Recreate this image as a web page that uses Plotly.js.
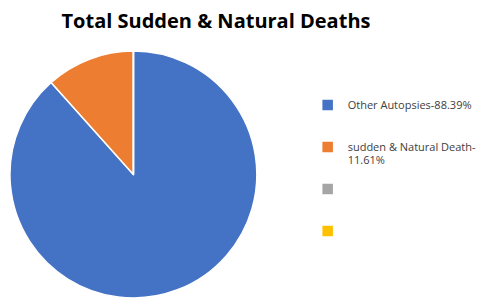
<!DOCTYPE html>
<html><head><meta charset="utf-8">
<script src="https://cdn.plot.ly/plotly-3.0.1.min.js"></script>
<style>html,body{margin:0;padding:0;background:#fff}#c{width:482px;height:299px}</style>
</head><body><div id="c"></div>
<script>
const labels = ["Other Autopsies-88.39%", "sudden & Natural Death-<br>11.61%", " ", "  "];
const values = [88.39, 11.61, 0, 0];
const colors = ["#4472C4", "#ED7D31", "#A5A5A5", "#FFC000"];
const titleText = "Total Sudden & Natural Deaths";

const W = 482, H = 299;
const PW = 446; // plot width after legend push
const pad = ["<br> <br> ", "<br> ", "<br> <br> ", ""];
const legLabels = labels.map((l, i) =>
  "<span style='font-size:11px'>" + l.split("<br>").join("</span><br><span style='font-size:11px'>") + "</span>" + pad[i]);
Plotly.newPlot("c", [{
  type: "pie",
  labels: legLabels,
  values: values,
  marker: {colors: colors, line: {color: "#fff", width: 1.5}},
  sort: false,
  direction: "clockwise",
  rotation: 0,
  textinfo: "none",
  hoverinfo: "none",
  domain: {x: [10/PW, 258/PW], y: [1 - 298/H, 1 - 51/H]}
}], {
  width: W, height: H,
  margin: {l: 0, r: 0, t: 0, b: 0},
  paper_bgcolor: "#fff",
  title: {text: "<b>" + titleText + "</b>", x: 216/W, xanchor: "center", y: 1 - 21/H, yanchor: "middle",
    font: {family: "Open Sans, sans-serif", size: 20, color: "#000"}},
  showlegend: true,
  legend: {x: 334/W, y: 1 - 92/H, xanchor: "left", yanchor: "top", valign: "top",
    font: {family: "Open Sans, sans-serif", size: 10, color: "#404040"},
    itemwidth: 30, tracegroupgap: 0}
}, {staticPlot: true});
</script></body></html>
